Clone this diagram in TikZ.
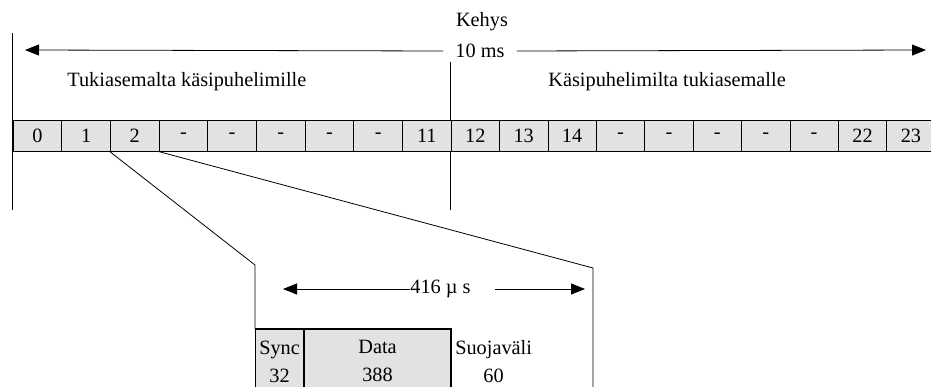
\documentclass[tikz,border=0pt]{standalone}
\usepackage{fontspec}
\setmainfont{Liberation Serif}
\usetikzlibrary{arrows.meta}
\definecolor{cellgray}{HTML}{E2E2E2}
\tikzset{
  lbl/.style={font=\fontsize{20.3}{22}\selectfont, inner sep=0pt},
  tipline/.style={-{Triangle[length=14pt,width=11pt]}},
  cell/.style={draw, fill=cellgray, minimum height=31pt, inner sep=0pt, anchor=north west, font=\fontsize{20.3}{22}\selectfont},
  bcell/.style={draw, fill=cellgray, minimum height=64pt, inner sep=0pt, anchor=north west, align=center, font=\fontsize{20.3}{28}\selectfont}
}
\begin{document}
\begin{tikzpicture}[x=1pt,y=-1pt,line width=0.8pt]
\useasboundingbox (0,0) rectangle (931,387);
\clip (0,0) rectangle (931,387);
% frame lines
\coordinate (lt) at (12.7,33);
\coordinate (lb) at (12.7,210);
\coordinate (mt) at (450.7,62);
\coordinate (mb) at (450.7,210);
\draw (lt) -- (lb);
\draw (mt) -- (mb);
% top labels and arrows
\node[lbl] (kehys) at (482,22) {Kehys};
\node[lbl, inner xsep=12pt] (ms) at (480,51) {10 ms};
\coordinate (al) at (25,50);
\coordinate (ar) at (926,50);
\draw[tipline] (ms.west) -- (al);
\draw[tipline] (ms.east) -- (ar);
\node[lbl, anchor=west] (down) at (67,82) {Tukiasemalta käsipuhelimille};
\node[lbl, anchor=west] (up) at (548,82) {Käsipuhelimilta tukiasemalle};
% slots
\foreach \t [count=\i from 0] in {0,1,2,-,-,-,-,-,11}
  \node[cell, minimum width=48.67pt] (s\i) at ({12.7+48.67*\i},120) {\t};
\foreach \t [count=\i from 9] in {12,13,14,-,-,-,-,-,22,23}
  \node[cell, minimum width=48.4pt] (s\i) at ({450.7+48.4*(\i-9)},120) {\t};
% zoom lines
\coordinate (zl) at (255,265);
\coordinate (zr) at (593,268);
\coordinate (zrb) at (593,400);
% burst box
\node[bcell, minimum width=48.3pt] (sync) at (255,329) {Sync\\32};
\node[bcell, minimum width=146pt, anchor=north west] (data) at (sync.north east) {Data\\388};
\draw[line width=1.8pt] (sync.north west) -- (data.north east) -- ([yshift=-40pt]data.south east);
\node[bcell, draw=none, fill=none, anchor=north west, minimum width=0pt, inner xsep=4pt] (guard) at (data.north east) {Suojaväli\\60};
\draw (s2.south west) -- (zl) -- (sync.north west);
\draw (s2.south east) -- (zr) -- (zrb);
% inner arrow
\node[lbl, anchor=west] (us) at (410,289) {416 µ s};
\coordinate (il) at (283,289);
\coordinate (ir) at (585,289);
\coordinate (irs) at (495,289);
\draw[tipline] (us.west) -- (il);
\draw[tipline] (irs) -- (ir);
\end{tikzpicture}
\end{document}
